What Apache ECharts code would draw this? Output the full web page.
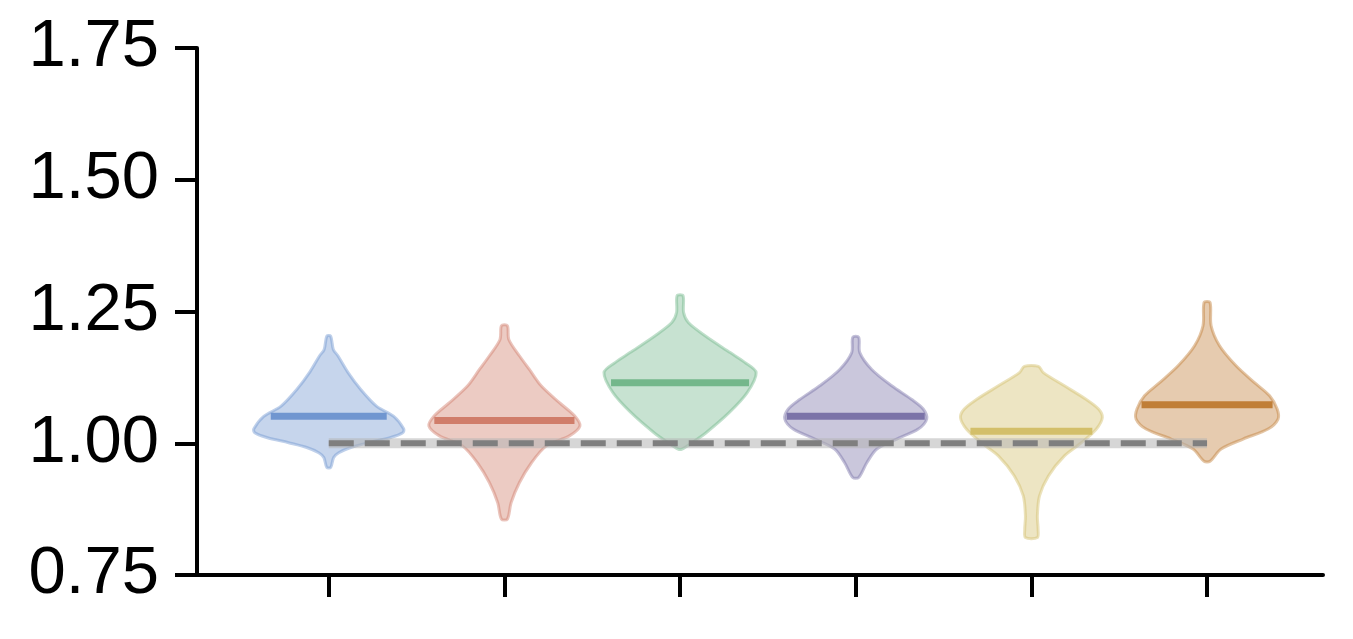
<!DOCTYPE html>
<html>
<head>
<meta charset="utf-8">
<script src="https://cdn.jsdelivr.net/npm/echarts@6/dist/echarts.min.js"></script>
<style>html,body{margin:0;padding:0;background:#fff}#c{width:1353px;height:639px}</style>
</head>
<body>
<div id="c"></div>
<script>
// Categories (positions 0..5 on the x axis, no labels shown)
const categories = ['G1', 'G2', 'G3', 'G4', 'G5', 'G6'];
const baseColors = ['#7096d0', '#d07d6a', '#74b78b', '#7b73a8', '#d3bf6a', '#c07e37'];
const medians = [1.051, 1.043, 1.115, 1.051, 1.023, 1.073];
const medianHalfWidths = [0.330, 0.399, 0.393, 0.393, 0.347, 0.373];
const yTicks = [0.75, 1.00, 1.25, 1.50, 1.75];
const refValue = 1.0;

// Violin outlines: [y value, half width in category units], top to bottom
const profile1 = [[1.203,0.011],[1.178,0.026],[1.166,0.052],[1.135,0.108],[1.102,0.182],[1.070,0.273],[1.051,0.370],[1.027,0.427],[1.020,0.421],[1.011,0.353],[1.001,0.228],[0.992,0.125],[0.982,0.057],[0.973,0.028],[0.954,0.011]];
const profile2 = [[1.223,0.017],[1.197,0.025],[1.166,0.085],[1.140,0.142],[1.109,0.209],[1.077,0.313],[1.052,0.399],[1.033,0.430],[1.014,0.370],[0.995,0.239],[0.963,0.154],[0.925,0.085],[0.887,0.038],[0.856,0.017]];
const profile3 = [[1.280,0.017],[1.248,0.020],[1.229,0.047],[1.204,0.142],[1.172,0.285],[1.153,0.370],[1.134,0.433],[1.096,0.382],[1.058,0.279],[1.020,0.148],[1.001,0.068],[0.989,0.011]];
const profile4 = [[1.201,0.017],[1.172,0.023],[1.140,0.091],[1.109,0.205],[1.083,0.319],[1.065,0.384],[1.046,0.404],[1.027,0.356],[1.008,0.233],[0.989,0.120],[0.963,0.063],[0.935,0.017]];
const profile5 = [[1.146,0.040],[1.134,0.068],[1.109,0.188],[1.083,0.313],[1.065,0.382],[1.049,0.404],[1.027,0.370],[1.001,0.285],[0.976,0.188],[0.938,0.097],[0.900,0.046],[0.862,0.034],[0.837,0.038],[0.821,0.034]];
const profile6 = [[1.267,0.017],[1.223,0.023],[1.185,0.071],[1.147,0.165],[1.115,0.270],[1.090,0.356],[1.065,0.399],[1.046,0.404],[1.027,0.347],[1.008,0.205],[0.989,0.080],[0.966,0.017]];
const profiles = [profile1, profile2, profile3, profile4, profile5, profile6];

function hexToRgba(hex, a) {
  const n = parseInt(hex.slice(1), 16);
  return 'rgba(' + ((n >> 16) & 255) + ',' + ((n >> 8) & 255) + ',' + (n & 255) + ',' + a + ')';
}

const chart = echarts.init(document.getElementById('c'), null, {renderer: 'canvas'});

const violinData = categories.map((c, i) => [i, medians[i]]);

const option = {
  animation: false,
  grid: {left: 197, right: 30, top: 48, bottom: 64},
  xAxis: {
    type: 'value', min: -0.75, max: 5.66,
    axisLine: {show: true, onZero: false, lineStyle: {color: '#000', width: 4}},
    axisTick: {show: true, customValues: categories.map((c, i) => i), length: 22, lineStyle: {color: '#000', width: 4}},
    axisLabel: {show: false},
    splitLine: {show: false}
  },
  yAxis: {
    type: 'value', min: 0.75, max: 1.75, interval: 0.25,
    axisLine: {show: true, onZero: false, lineStyle: {color: '#000', width: 4}},
    axisTick: {show: true, length: 22, lineStyle: {color: '#000', width: 4}},
    axisLabel: {
      show: true, margin: 38, fontSize: 67, color: '#000',
      fontFamily: '"Liberation Sans", Arial, sans-serif',
      formatter: v => v.toFixed(2)
    },
    splitLine: {show: false}
  },
  series: [
    {
      type: 'custom',
      data: violinData,
      z: 2,
      renderItem: function (params, api) {
        const i = api.value(0);
        const prof = profiles[i];
        const right = prof.map(p => api.coord([i + p[1], p[0]]));
        const left = prof.slice().reverse().map(p => api.coord([i - p[1], p[0]]));
        const pts = right.concat(left);
        const m1 = api.coord([i - medianHalfWidths[i], api.value(1)]);
        const m2 = api.coord([i + medianHalfWidths[i], api.value(1)]);
        return {
          type: 'group',
          children: [
            {
              type: 'polygon',
              shape: {points: pts, smooth: 0.3},
              style: {fill: hexToRgba(baseColors[i], 0.4), stroke: hexToRgba(baseColors[i], 0.45), lineWidth: 3}
            },
            {
              type: 'line',
              shape: {x1: m1[0], y1: m1[1], x2: m2[0], y2: m2[1]},
              style: {stroke: baseColors[i], lineWidth: 7}
            }
          ]
        };
      }
    },
    {
      type: 'line', z: 3, symbol: 'none', silent: true,
      data: [[0, refValue], [categories.length - 1, refValue]],
      lineStyle: {color: 'rgba(180,180,180,0.55)', width: 10, cap: 'butt'}
    },
    {
      type: 'line', z: 4, symbol: 'none', silent: true,
      data: [[0, refValue], [categories.length - 1, refValue]],
      lineStyle: {color: '#7f7f7f', width: 6, type: [25, 11], cap: 'butt'}
    }
  ]
};
chart.setOption(option);
</script>
</body>
</html>
